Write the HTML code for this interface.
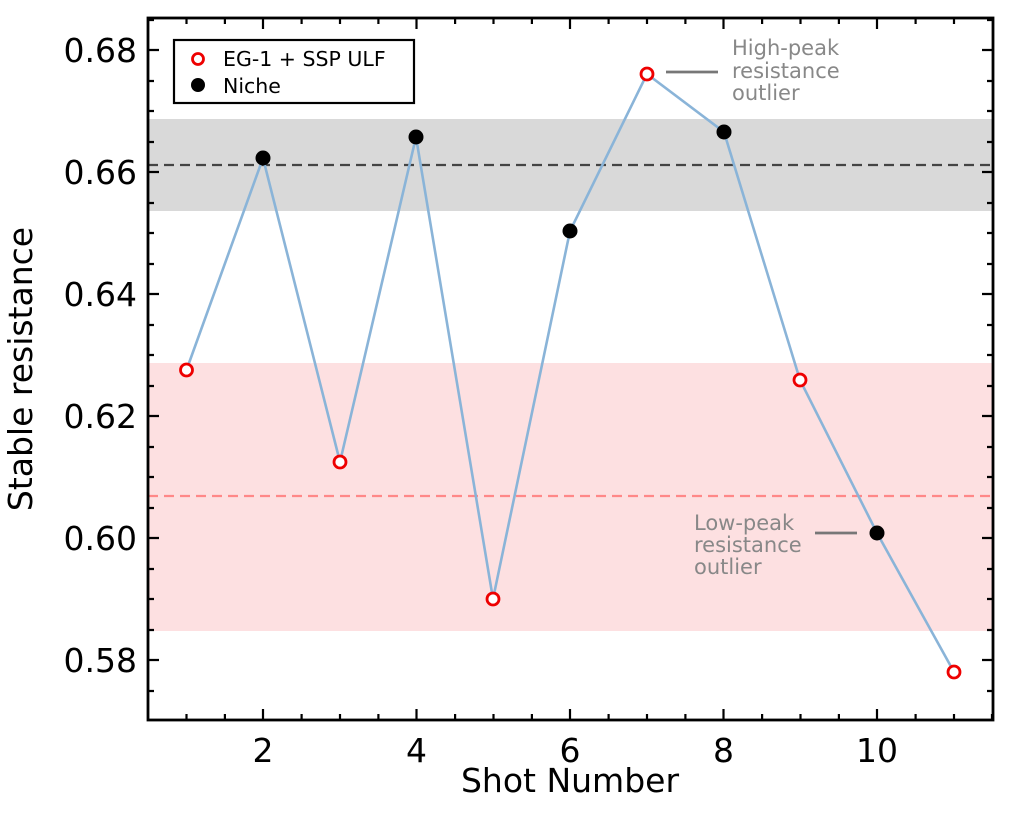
<!DOCTYPE html>
<html><head><meta charset="utf-8"><style>body{margin:0;background:#fff}svg{display:block}</style></head><body>
<svg width="1024" height="819" xmlns="http://www.w3.org/2000/svg" font-family="'DejaVu Sans','Liberation Sans',sans-serif">
<defs><clipPath id="c"><rect x="148" y="18" width="845" height="702"/></clipPath></defs>
<g clip-path="url(#c)">
<rect x="148" y="119" width="845" height="92" fill="#d9d9d9"/>
<rect x="148" y="363" width="845" height="268" fill="#fde0e1"/>
<line x1="148" y1="165" x2="993" y2="165" stroke="#444" stroke-width="2.2" stroke-dasharray="10,6"/>
<line x1="148" y1="496" x2="993" y2="496" stroke="#f88" stroke-width="2.2" stroke-dasharray="10,6"/>
<polyline fill="none" stroke="#8ab4d8" stroke-width="2.6" points="186.5,370 263,158 340,462 416,137 493,599 570,231 647,74 724,132 800,380 877,533 954,672"/>
</g>
<g fill="#fff" stroke="#e00" stroke-width="2.8">
<circle cx="186.5" cy="370" r="6"/><circle cx="340" cy="462" r="6"/><circle cx="493" cy="599" r="6"/><circle cx="647" cy="74" r="6"/><circle cx="800" cy="380" r="6"/><circle cx="954" cy="672" r="6"/>
</g>
<g fill="#000">
<circle cx="263" cy="158" r="7.5"/><circle cx="416" cy="137" r="7.5"/><circle cx="570" cy="231" r="7.5"/><circle cx="724" cy="132" r="7.5"/><circle cx="877" cy="533" r="7.5"/>
</g>
<g stroke="#000" stroke-width="2.2">
<path d="M186.5,720v-6M224.9,720v-6M301.6,720v-6M340,720v-6M378.4,720v-6M455.1,720v-6M493.5,720v-6M531.9,720v-6M608.6,720v-6M647,720v-6M685.4,720v-6M762.1,720v-6M800.5,720v-6M838.9,720v-6M915.6,720v-6M954,720v-6M992,720v-6"/>
<path d="M263,720v-11M416.5,720v-11M570,720v-11M723.5,720v-11M877,720v-11"/>
<path d="M186.5,18v6M224.9,18v6M301.6,18v6M340,18v6M378.4,18v6M455.1,18v6M493.5,18v6M531.9,18v6M608.6,18v6M647,18v6M685.4,18v6M762.1,18v6M800.5,18v6M838.9,18v6M915.6,18v6M954,18v6"/>
<path d="M263,18v11M416.5,18v11M570,18v11M723.5,18v11M877,18v11"/>
<path d="M148,50h11M148,172h11M148,294h11M148,416h11M148,538h11M148,660h11M993,50h-11M993,172h-11M993,294h-11M993,416h-11M993,538h-11M993,660h-11"/>
<path d="M148,20h6M148,81h6M148,111h6M148,142h6M148,203h6M148,233h6M148,264h6M148,325h6M148,355h6M148,386h6M148,447h6M148,477h6M148,508h6M148,569h6M148,599h6M148,630h6M148,691h6"/>
<path d="M993,20h-6M993,81h-6M993,111h-6M993,142h-6M993,203h-6M993,233h-6M993,264h-6M993,325h-6M993,355h-6M993,386h-6M993,447h-6M993,477h-6M993,508h-6M993,569h-6M993,599h-6M993,630h-6M993,691h-6"/>
</g>
<rect x="148" y="18" width="845" height="702" fill="none" stroke="#000" stroke-width="2.8"/>
<g font-size="33" text-anchor="end" fill="#000">
<text x="137" y="62">0.68</text><text x="137" y="184">0.66</text><text x="137" y="306">0.64</text><text x="137" y="428">0.62</text><text x="137" y="550">0.60</text><text x="137" y="672">0.58</text>
</g>
<g font-size="33" text-anchor="middle" fill="#000">
<text x="263" y="762">2</text><text x="416.5" y="762">4</text><text x="570" y="762">6</text><text x="723.5" y="762">8</text><text x="877" y="762">10</text>
<text x="570" y="792">Shot Number</text>
<text transform="translate(32,369) rotate(-90)">Stable resistance</text>
</g>
<rect x="174" y="40" width="240" height="63" fill="#fff" stroke="#000" stroke-width="2.2"/>
<circle cx="198" cy="59" r="5.5" fill="#fff" stroke="#e00" stroke-width="2.8"/>
<circle cx="198" cy="85" r="7" fill="#000"/>
<g font-size="20.5" fill="#000"><text x="223" y="66">EG-1 + SSP ULF</text><text x="223" y="93">Niche</text></g>
<g stroke="#777" stroke-width="2.8"><line x1="666" y1="72" x2="718" y2="72"/><line x1="815" y1="533" x2="857" y2="533"/></g>
<g font-size="21" fill="#888">
<text x="732" y="55">High-peak</text><text x="732" y="78">resistance</text><text x="732" y="100">outlier</text>
<text x="694" y="530">Low-peak</text><text x="694" y="552">resistance</text><text x="694" y="574">outlier</text>
</g>
</svg>
</body></html>
